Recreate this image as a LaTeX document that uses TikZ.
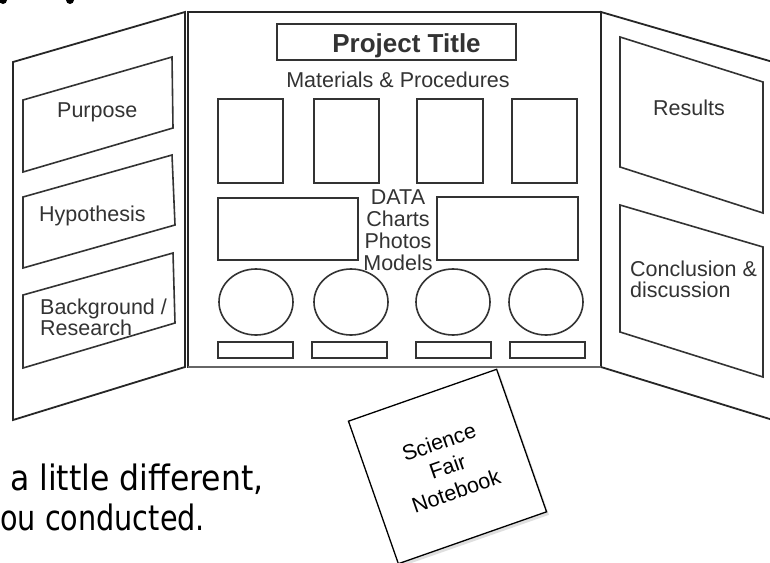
\documentclass[tikz,border=0pt]{standalone}
\usepackage{fontspec}
\setmainfont{Liberation Sans}
\newfontfamily\handfont{DejaVu Sans}
\usetikzlibrary{shadows}

\begin{document}
\begin{tikzpicture}[x=1pt,y=-1pt,
  panel/.style={draw=black!85, line width=1.8pt, fill=white, line join=miter},
  slot/.style={draw=black!80, line width=1.6pt},
  lbl/.style={inner sep=0pt, text=black!80, font=\fontsize{21.5}{22}\selectfont},
  hand/.style={inner sep=0pt, text=black, font=\handfont\fontsize{35}{35}\selectfont},
  notebook/.style={draw=black, line width=1.3pt, fill=white, inner sep=0pt,
    minimum width=157pt, minimum height=151pt, align=center,
    font=\fontsize{21.5}{26}\selectfont,
    drop shadow={opacity=0.25, shadow xshift=2.5pt, shadow yshift=-3pt}}
]
% canvas
\clip (0,0) rectangle (770,562);
\fill[white] (0,0) rectangle (770,562);

% ends of letters from the line above
\fill (3,0) circle[radius=4pt];
\fill (70,0) circle[radius=4pt];

% the three panels of the board
\draw[panel] (13,62) -- (185,12) -- (185,367) -- (13,420) -- cycle;
\draw[panel] (188,12) rectangle (601,367);
\draw[panel] (601,12) -- (773,62) -- (773,420) -- (601,367) -- cycle;
\draw[draw=black!60, line width=2.6pt] (188,367) -- (601,367);

% left panel boxes
\draw[slot] (23,100) -- (172,57) -- (173,128) -- (23,172) -- cycle;
\draw[slot] (23,197) -- (172,155) -- (175,225) -- (23,268) -- cycle;
\draw[slot] (23,295) -- (173,253) -- (175,323) -- (23,368) -- cycle;
\node[lbl, anchor=base west] (purpose) at (57,117) {Purpose};
\node[lbl, anchor=base west] (hyp) at (39,221) {Hypothesis};
\node[lbl, anchor=base west] (bg1) at (40,314) {Background /};
\node[lbl, anchor=base west] (bg2) at (40,335) {Research};

% right panel boxes
\draw[slot] (620,37) -- (763,82) -- (763,213) -- (620,167) -- cycle;
\draw[slot] (620,205) -- (763,247) -- (763,377) -- (620,332) -- cycle;
\node[lbl, anchor=base west] (results) at (653,115) {Results};
\node[lbl, anchor=base west] (conc1) at (630,276) {Conclusion \&};
\node[lbl, anchor=base west] (conc2) at (630,297) {discussion};

% centre panel
\draw[slot] (277,24) rectangle (516,60);
\node[lbl, font=\bfseries\fontsize{26}{26}\selectfont, anchor=base] (title) at (406.5,52) {Project Title};
\node[lbl, anchor=base] (mat) at (398,87) {Materials \& Procedures};

\foreach \xa/\xb in {218/283, 314/379, 417/483, 512/577}
  \draw[slot] (\xa,99) rectangle (\xb,183);

\draw[slot] (218,198) rectangle (358,260);
\draw[slot] (437,197) rectangle (578,260);
\node[lbl, anchor=base] (data) at (398,204) {DATA};
\node[lbl, anchor=base] (charts) at (398,226) {Charts};
\node[lbl, anchor=base] (photos) at (398,248) {Photos};
\node[lbl, anchor=base] (models) at (398,270) {Models};

\foreach \cx in {256, 351, 453, 546}
  \draw[slot] (\cx,302) ellipse[x radius=37pt, y radius=33pt];

\foreach \xa/\xb in {218/293, 312/387, 416/491, 510/585}
  \draw[slot] (\xa,342) rectangle (\xb,358);

% notebook card
\node[notebook, rotate=19.3] (nb) at (447.5,466.5) {Science\\Fair\\Notebook};

% caption lines
\node[hand, anchor=base west, xscale=0.9] (cap1) at (10,490) {a little different,};
\node[hand, anchor=base west, xscale=0.82] (cap2) at (0,530) {ou conducted.};
\end{tikzpicture}
\end{document}
